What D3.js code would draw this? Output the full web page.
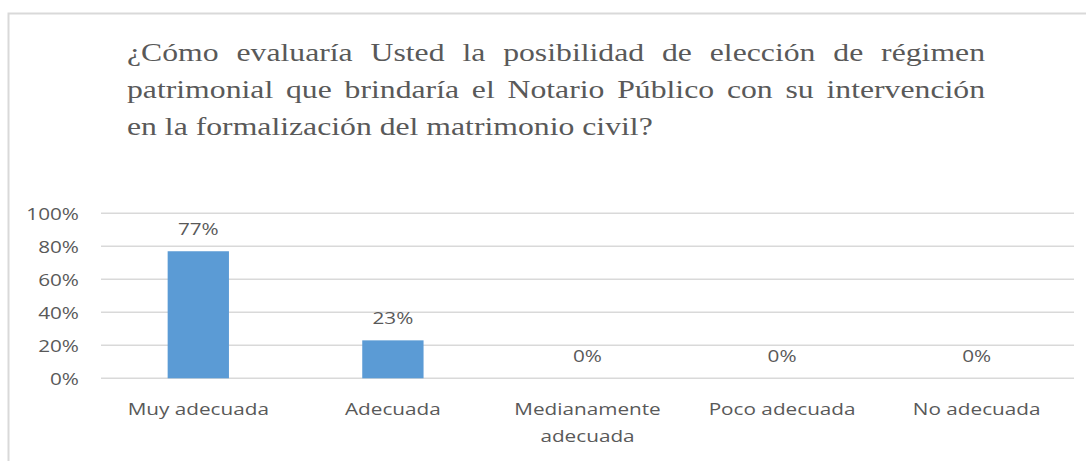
<!DOCTYPE html>
<html>
<head>
<meta charset="utf-8">
<script src="https://cdn.jsdelivr.net/npm/d3@7"></script>
<style>
  body { margin: 0; background: #fff; }
  svg { display: block; }
</style>
</head>
<body>
<svg width="1086" height="461"></svg>
<script>
// chart data
var categories = [['Muy adecuada'], ['Adecuada'], ['Medianamente', 'adecuada'], ['Poco adecuada'], ['No adecuada']];
var values = [0.77, 0.23, 0, 0, 0];
var valueLabels = ['77%', '23%', '0%', '0%', '0%'];
var yTicks = [0, 0.2, 0.4, 0.6, 0.8, 1];
var titleLines = [
  '¿Cómo evaluaría Usted la posibilidad de elección de régimen',
  'patrimonial que brindaría el Notario Público con su intervención',
  'en la formalización del matrimonio civil?'
];

var svg = d3.select('svg');
var textColor = '#595959';
var sx = 1.22; // the original picture is stretched sideways
var sans = '"Open Sans", "Noto Sans", sans-serif';

// outer frame
svg.append('rect')
  .attr('x', 8.5).attr('y', 13.5)
  .attr('width', 1200).attr('height', 600)
  .attr('fill', 'none')
  .attr('stroke', '#d9d9d9')
  .attr('stroke-width', 2);

// title, justified like the original
var titleLeft = 127, titleRight = 985;
titleLines.forEach(function (line, i) {
  var words = line.split(' ');
  var texts = svg.append('g')
    .selectAll('text')
    .data(words)
    .enter()
    .append('text')
    .style('font-family', '"Liberation Serif", "Times New Roman", serif')
    .style('font-size', '26px')
    .style('fill', textColor)
    .text(function (d) { return d; });
  var widths = [];
  texts.each(function () { widths.push(this.getComputedTextLength() * sx); });
  var total = d3.sum(widths);
  var gap = (i < titleLines.length - 1)
    ? (titleRight - titleLeft - total) / (words.length - 1)
    : 7.9;
  var pos = titleLeft;
  texts.attr('transform', function (d, j) {
    var t = 'translate(' + pos + ',' + (61 + i * 37) + ') scale(' + sx + ',1)';
    pos += widths[j] + gap;
    return t;
  });
});

// scales
var x = d3.scaleBand()
  .domain(d3.range(categories.length))
  .range([101, 1074]);

var y = d3.scaleLinear()
  .domain([0, 1])
  .range([378.3, 213.3]);

// gridlines
svg.append('g')
  .selectAll('line')
  .data(yTicks)
  .enter()
  .append('line')
  .attr('x1', 101).attr('x2', 1074)
  .attr('y1', function (d) { return y(d); })
  .attr('y2', function (d) { return y(d); })
  .attr('stroke', '#d9d9d9')
  .attr('stroke-width', 1.5);

// y axis labels
var yAxis = svg.append('g')
  .attr('transform', 'translate(79,0)')
  .call(d3.axisLeft(y).tickValues(yTicks).tickFormat(d3.format('.0%')).tickSize(0).tickPadding(0));
yAxis.select('.domain').remove();
yAxis.selectAll('.tick text')
  .attr('x', null)
  .attr('dy', '0.35em')
  .attr('transform', 'scale(' + sx + ',1)')
  .style('font-family', sans)
  .style('font-size', '17px')
  .style('fill', textColor);

// bars
var barW = x.bandwidth() * 0.315;
svg.selectAll('.bar')
  .data(values)
  .enter()
  .append('rect')
  .attr('class', 'bar')
  .attr('x', function (d, i) { return x(i) + x.bandwidth() / 2 - barW / 2; })
  .attr('y', function (d) { return y(d); })
  .attr('width', barW)
  .attr('height', function (d) { return y(0) - y(d); })
  .style('fill', '#5b9bd5');

// value labels
svg.selectAll('.val')
  .data(values)
  .enter()
  .append('text')
  .attr('class', 'val')
  .attr('transform', function (d, i) {
    return 'translate(' + (x(i) + x.bandwidth() / 2) + ',' + (y(d) - 16) + ') scale(' + sx + ',1)';
  })
  .attr('text-anchor', 'middle')
  .style('font-family', sans)
  .style('font-size', '17px')
  .style('fill', textColor)
  .text(function (d, i) { return valueLabels[i]; });

// category labels
var cat = svg.selectAll('.cat')
  .data(categories)
  .enter()
  .append('text')
  .attr('class', 'cat')
  .attr('transform', function (d, i) {
    return 'translate(' + (x(i) + x.bandwidth() / 2) + ',415) scale(' + sx + ',1)';
  })
  .attr('text-anchor', 'middle')
  .style('font-family', sans)
  .style('font-size', '17px')
  .style('fill', textColor);
cat.selectAll('tspan')
  .data(function (d) { return d; })
  .enter()
  .append('tspan')
  .attr('x', 0)
  .attr('dy', function (d, j) { return j === 0 ? 0 : 27; })
  .text(function (d) { return d; });
</script>
</body>
</html>
